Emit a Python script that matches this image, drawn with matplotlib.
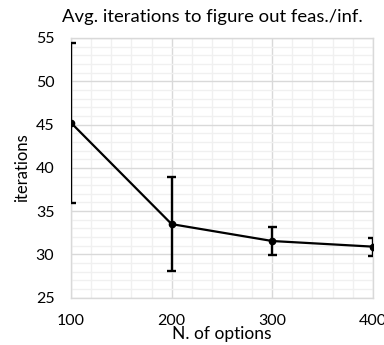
import numpy as np
import matplotlib
matplotlib.use("Agg")
import matplotlib.pyplot as plt
from matplotlib.ticker import MultipleLocator

plt.rcParams['font.family'] = ['Lato', 'DejaVu Sans']

# data
n_options = [100, 200, 300, 400]
iterations = [45.2, 33.5, 31.55, 30.9]
err = [9.25, 5.4, 1.65, 1.05]

fig = plt.figure(figsize=(3.84, 3.45), dpi=100)
ax = fig.add_axes([0.185, 0.137, 0.786, 0.753])

ax.errorbar(n_options, iterations, yerr=err, color='black', lw=1.6,
            elinewidth=1.7, capsize=0,
            marker='o', markersize=4.5, zorder=3)
# caps drawn as data-width lines so they clip at the plot edge
lo = np.array(iterations) - np.array(err)
hi = np.array(iterations) + np.array(err)
xs = np.array(n_options)
ax.hlines(np.concatenate([lo, hi]), np.concatenate([xs, xs]) - 4.5,
          np.concatenate([xs, xs]) + 4.5, color='black', lw=1.7, zorder=3)

ax.set_xlim(100, 400)
ax.set_ylim(25, 55)
ax.xaxis.set_major_locator(MultipleLocator(100))
ax.xaxis.set_minor_locator(MultipleLocator(20))
ax.yaxis.set_major_locator(MultipleLocator(5))
ax.yaxis.set_minor_locator(MultipleLocator(1))

ax.grid(which='major', color='#d9d9d9', lw=1.0, zorder=0)
ax.grid(which='minor', color='#f0f0f0', lw=1.0, zorder=0)
ax.set_axisbelow(True)
for s in ax.spines.values():
    s.set_color('#d9d9d9')
    s.set_linewidth(1.0)

ax.tick_params(which='both', length=0)
ax.tick_params(axis='x', pad=12, labelsize=11.5)
ax.tick_params(axis='y', pad=12, labelsize=11.5)

ax.set_xlabel('N. of options', fontsize=12.5, labelpad=-2)
ax.set_ylabel('iterations', fontsize=12, labelpad=4)
fig.text(0.552, 0.95, 'Avg. iterations to figure out feas./inf.',
         ha='center', va='center', fontsize=13.3)

fig.savefig('out.png', dpi=100)
